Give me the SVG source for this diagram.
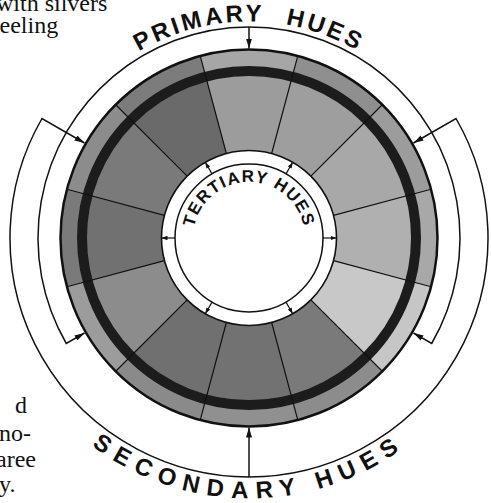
<svg xmlns="http://www.w3.org/2000/svg" width="491" height="503" viewBox="0 0 491 503">
<style>
.page{font-family:"Liberation Serif","Times New Roman",serif;font-size:24px;fill:#111}
.lbl{font-family:"Liberation Sans",Arial,sans-serif;font-weight:bold;fill:#111}
.seg{stroke:none}
.div{stroke:#111;stroke-width:1.2;fill:none}
.con{stroke:#111;stroke-width:1.5;fill:none}
.tcon{stroke:#111;stroke-width:1.2;fill:none}
</style>
<defs>
<path id="wo" d="M0,0 L182.08,-48.79 A188.5,188.5 0 0 1 182.08,48.79 Z"/>
<path id="wi" d="M0,0 L156.48,-41.93 A162,162 0 0 1 156.48,41.93 Z"/>
<path id="pPath" d="M32.5,238 A216.5,216.5 0 0 1 465.5,238"/>
<path id="sPath" d="M-11.5,238 A260.5,260.5 0 0 0 509.5,238"/>
<path id="tPath" d="M193,238 A56,56 0 0 1 305,238"/>
<marker id="ah" viewBox="0 0 10 6" refX="10" refY="3" markerWidth="10" markerHeight="6" markerUnits="userSpaceOnUse" orient="auto-start-reverse">
<path d="M0,0 L10,3 L0,6 Z" fill="#111"/>
</marker>
<marker id="ahs" viewBox="0 0 6 4.4" refX="6" refY="2.2" markerWidth="6" markerHeight="4.4" markerUnits="userSpaceOnUse" orient="auto">
<path d="M0,0 L6,2.2 L0,4.4 Z" fill="#111"/>
</marker>
</defs>

<g id="page-text">
<text class="page" x="-4" y="11">with silvers</text>
<text class="page" x="-8.5" y="33">feeling</text>
<text class="page" x="15" y="413">d</text>
<text class="page" x="-1" y="441">no-</text>
<text class="page" x="-4" y="467">aree</text>
<text class="page" x="-1" y="492">y.</text>
</g>

<g id="wheel">
<g id="outer-ring" transform="translate(249 238)">
<use href="#wo" class="seg" fill="#a6a6a6" transform="rotate(-90)"/>
<use href="#wo" class="seg" fill="#8f8f8f" transform="rotate(-60)"/>
<use href="#wo" class="seg" fill="#9c9c9c" transform="rotate(-30)"/>
<use href="#wo" class="seg" fill="#a8a8a8" transform="rotate(0)"/>
<use href="#wo" class="seg" fill="#c6c6c6" transform="rotate(30)"/>
<use href="#wo" class="seg" fill="#8c8c8c" transform="rotate(60)"/>
<use href="#wo" class="seg" fill="#909090" transform="rotate(90)"/>
<use href="#wo" class="seg" fill="#8a8a8a" transform="rotate(120)"/>
<use href="#wo" class="seg" fill="#9c9c9c" transform="rotate(150)"/>
<use href="#wo" class="seg" fill="#7a7a7a" transform="rotate(180)"/>
<use href="#wo" class="seg" fill="#8c8c8c" transform="rotate(210)"/>
<use href="#wo" class="seg" fill="#7c7c7c" transform="rotate(240)"/>
</g>
<g id="tertiary-segments" transform="translate(249 238)">
<use href="#wi" class="seg" fill="#9c9c9c" transform="rotate(-90)"/>
<use href="#wi" class="seg" fill="#9e9e9e" transform="rotate(-60)"/>
<use href="#wi" class="seg" fill="#a8a8a8" transform="rotate(-30)"/>
<use href="#wi" class="seg" fill="#b0b0b0" transform="rotate(0)"/>
<use href="#wi" class="seg" fill="#c8c8c8" transform="rotate(30)"/>
<use href="#wi" class="seg" fill="#7a7a7a" transform="rotate(60)"/>
<use href="#wi" class="seg" fill="#727272" transform="rotate(90)"/>
<use href="#wi" class="seg" fill="#707070" transform="rotate(120)"/>
<use href="#wi" class="seg" fill="#8c8c8c" transform="rotate(150)"/>
<use href="#wi" class="seg" fill="#717171" transform="rotate(180)"/>
<use href="#wi" class="seg" fill="#7a7a7a" transform="rotate(210)"/>
<use href="#wi" class="seg" fill="#6a6a6a" transform="rotate(240)"/>
</g>
<circle cx="249" cy="238" r="167" fill="none" stroke="#1c1c1c" stroke-width="10"/>
<path class="div" d="M333.52,215.35 L431.08,189.21 M310.87,176.13 L382.29,104.71 M271.65,153.48 L297.79,55.92 M226.35,153.48 L200.21,55.92 M187.13,176.13 L115.71,104.71 M164.48,215.35 L66.92,189.21 M164.48,260.65 L66.92,286.79 M187.13,299.87 L115.71,371.29 M226.35,322.52 L200.21,420.08 M271.65,322.52 L297.79,420.08 M310.87,299.87 L382.29,371.29 M333.52,260.65 L431.08,286.79"/>
<circle cx="249" cy="238" r="188.5" fill="none" stroke="#111" stroke-width="2.5"/>
<circle cx="249" cy="238" r="87.5" fill="#fff" stroke="#111" stroke-width="1.6"/>
<circle cx="249" cy="238" r="74" fill="none" stroke="#111" stroke-width="1.5"/>
</g>

<g id="connectors">
<path id="primary-bracket" class="con" marker-start="url(#ah)" marker-end="url(#ah)" d="M84.5,333 L66.3,343.5 A211,211 0 1 1 431.7,343.5 L413.5,333"/>
<path id="primary-top" class="con" marker-end="url(#ah)" d="M249,27 L249,48.5"/>
<path id="secondary-bracket" class="con" marker-start="url(#ah)" marker-end="url(#ah)" d="M84.5,143 L42,118.5 A239,239 0 1 0 456,118.5 L413.5,143"/>
<path id="secondary-bottom" class="con" marker-end="url(#ah)" d="M249,477 L249,427.5"/>
<path class="tcon" marker-end="url(#ahs)" d="M323,238 L336.5,238"/>
<path class="tcon" marker-end="url(#ahs)" d="M286,173.9 L292.7,162.3"/>
<path class="tcon" marker-end="url(#ahs)" d="M212,173.9 L205.3,162.3"/>
<path class="tcon" marker-end="url(#ahs)" d="M175,238 L161.5,238"/>
<path class="tcon" marker-end="url(#ahs)" d="M212,302.1 L205.3,313.7"/>
<path class="tcon" marker-end="url(#ahs)" d="M286,302.1 L292.7,313.7"/>
</g>

<g id="primary-label">
<text class="lbl" font-size="24" letter-spacing="3" word-spacing="12"><textPath href="#pPath" startOffset="50%" text-anchor="middle">PRIMARY HUES</textPath></text>
</g>
<g id="secondary-label">
<text class="lbl" font-size="24" letter-spacing="8"><textPath href="#sPath" startOffset="50%" text-anchor="middle">SECONDARY HUES</textPath></text>
</g>
<g id="tertiary-label">
<text class="lbl" font-size="17" letter-spacing="1.4"><textPath href="#tPath" startOffset="50%" text-anchor="middle">TERTIARY HUES</textPath></text>
</g>
</svg>
